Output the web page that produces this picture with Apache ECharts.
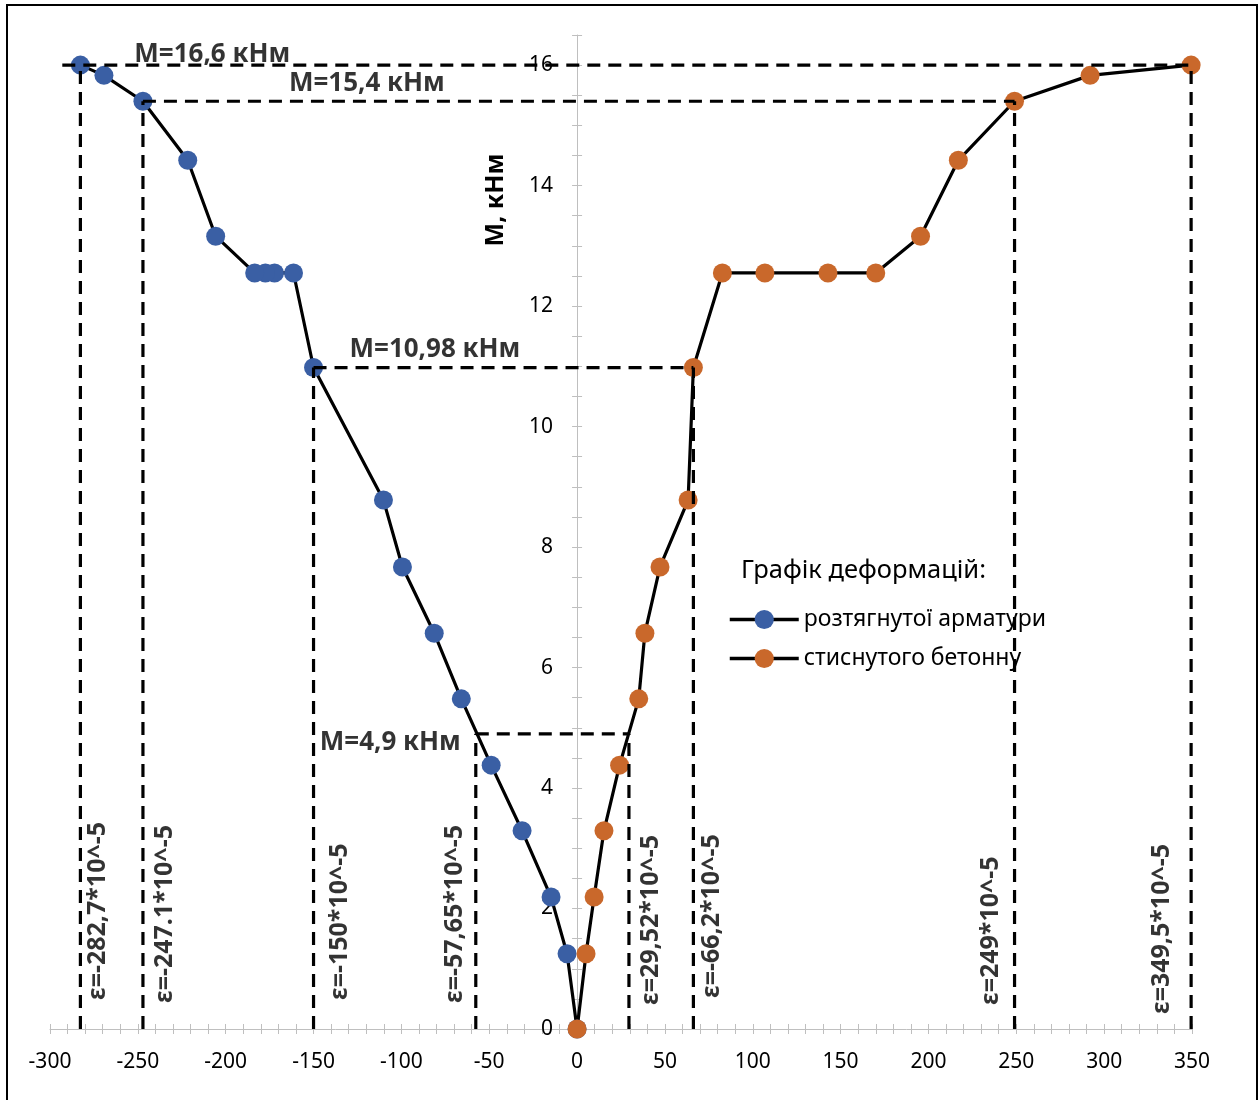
<!DOCTYPE html>
<html><head><meta charset="utf-8">
<script src="https://cdn.jsdelivr.net/npm/echarts@6/dist/echarts.min.js"></script>
<style>html,body{margin:0;padding:0;background:#fff}#c{width:1259px;height:1100px}</style>
</head><body><div id="c"></div>
<script>
// ---- data ----
const seriesNames = ['розтягнутої арматури', 'стиснутого бетонну'];
const momentM = [0, 1.25, 2.19, 3.29, 4.38, 5.48, 6.57, 7.67, 8.78, 10.98, 12.55, 12.55, 12.55, 12.55, 13.16, 14.42, 15.4, 15.83, 16.0];
const strainRebar = [0, -5.7, -14.8, -31.3, -48.9, -65.9, -81.3, -99.4, -110.2, -150, -161.4, -172.2, -177.4, -183.5, -205.7, -221.6, -247.1, -269.3, -282.7];
const strainConcrete = [0, 5.1, 9.7, 15.3, 24.2, 35.1, 38.6, 47.2, 63.2, 66.2, 82.7, 106.9, 142.8, 170.0, 195.5, 217.0, 249.0, 292.0, 349.5];

const hLineM = [16, 15.4, 10.98, 4.9];
const hLineFrom = [-293, -247.1, -150, -57.65];
const hLineTo = [349.5, 249, 66.2, 29.52];
const hLineText = ['M=16,6 кНм', 'M=15,4 кНм', 'M=10,98 кНм', 'M=4,9 кНм'];

const vLineStrain = [-282.7, -247.1, -150, -57.65, 29.52, 66.2, 249, 349.5];
const vLineTop = [16, 15.4, 10.98, 4.9, 4.9, 10.98, 15.4, 16];
const vLineText = ['ε=-282,7*10^-5', 'ε=-247.1*10^-5', 'ε=-150*10^-5', 'ε=-57,65*10^-5', 'ε=29,52*10^-5', 'ε=-66,2*10^-5', 'ε=249*10^-5', 'ε=349,5*10^-5'];

const xMin = -300, xMax = 350, xLabelStep = 50, xTickStep = 10;
const yMin = 0, yMax = 16.5, yLabelStep = 2, yTickStep = 0.5;
const yAxisTitle = 'M, кНм';
const legendTitle = 'Графік деформацій:';

// ---- styling / layout ----
const FONT = '"Noto Sans", "Open Sans", sans-serif';
const BLUE = '#3A5FA4';
const ORANGE = '#C9682B';
const AXIS_GRAY = '#BFBFBF';
const W = 1259, H = 1100;
const GRID = {left: 50, right: 67, top: 35, bottom: 71};
const gridW = W - GRID.left - GRID.right;
// y axis crosses the x axis at x = 0
const yAxisOffset = -gridW * (0 - xMin) / (xMax - xMin);
const hLabelOffset = [[72, -10], [146, -18], [36, -18], [-156, 9]];
const vLabelOffset = [[18, -29], [22, -26], [26, -29], [-21, -26], [22, -24], [19, -31], [-24, -24], [-29, -15]];

const chart = echarts.init(document.getElementById('c'), null, {renderer: 'canvas'});

function pairs(xs, ys) { return xs.map((x, i) => [x, ys[i]]); }

const dataSeries = [
  {name: seriesNames[0], xs: strainRebar, color: BLUE},
  {name: seriesNames[1], xs: strainConcrete, color: ORANGE}
].map(s => ({
  name: s.name, type: 'line', z: 2,
  data: pairs(s.xs, momentM),
  symbol: 'circle', symbolSize: 19, showSymbol: true,
  itemStyle: {color: s.color},
  lineStyle: {color: '#000', width: 3.2},
  emphasis: {disabled: true}
}));

const dash = {color: '#000', width: 3.2, type: [13, 8]};
const hSeries = hLineM.map((m, i) => ({
  type: 'line', z: 5, silent: true, symbol: 'none',
  data: [[hLineFrom[i], m], [hLineTo[i], m]],
  lineStyle: dash
}));
const vSeries = vLineStrain.map((e, i) => ({
  type: 'line', z: 5, silent: true, symbol: 'none',
  data: [[e, 0], [e, vLineTop[i]]],
  lineStyle: dash
}));

const hLabelSeries = {
  type: 'scatter', z: 6, silent: true, symbolSize: 0.1,
  itemStyle: {color: 'transparent'},
  data: hLineM.map((m, i) => ({
    value: [hLineFrom[i], m],
    label: {
      show: true, formatter: hLineText[i], position: hLabelOffset[i],
      align: 'left', verticalAlign: 'middle',
      fontFamily: FONT, fontWeight: 'bold', fontSize: 26, color: '#000'
    }
  }))
};
const vLabelSeries = {
  type: 'scatter', z: 6, silent: true, symbolSize: 0.1,
  itemStyle: {color: 'transparent'},
  data: vLineStrain.map((e, i) => ({
    value: [e, 0],
    label: {
      show: true, formatter: vLineText[i], position: vLabelOffset[i], rotate: 90,
      align: 'left', verticalAlign: 'middle',
      fontFamily: FONT, fontWeight: 'bold', fontSize: 25, color: '#000'
    }
  }))
};

const tickStyle = {show: true, length: 5, lineStyle: {color: AXIS_GRAY, width: 1}};
const baseX = {type: 'value', min: xMin, max: xMax, interval: xTickStep, splitLine: {show: false}, position: 'bottom'};
const baseY = {type: 'value', min: yMin, max: yMax, interval: yTickStep, splitLine: {show: false}, position: 'left', offset: yAxisOffset};

const option = {
  animation: false,
  backgroundColor: '#fff',
  grid: Object.assign({containLabel: false}, GRID),
  title: {
    text: legendTitle, left: 741, top: 558, padding: 0,
    textStyle: {fontFamily: FONT, fontWeight: 'normal', fontSize: 25.5, color: '#000'}
  },
  legend: {
    data: seriesNames, orient: 'vertical', left: 728, top: 608, padding: 0,
    itemWidth: 69, itemHeight: 24, itemGap: 16,
    lineStyle: {width: 3.5},
    textStyle: {fontFamily: FONT, fontSize: 23, color: '#000'},
    selectedMode: false
  },
  xAxis: [
    Object.assign({}, baseX, {
      axisLine: {show: true, onZero: false, lineStyle: {color: AXIS_GRAY, width: 1}},
      axisTick: tickStyle,
      axisLabel: {
        margin: 23, fontFamily: FONT, fontSize: 21, color: '#000',
        formatter: v => (Math.abs(v % xLabelStep) < 1e-6 ? String(v) : '')
      }
    }),
    Object.assign({}, baseX, {
      axisLine: {show: false, onZero: false},
      axisTick: Object.assign({}, tickStyle, {inside: true}),
      axisLabel: {show: false}
    })
  ],
  yAxis: [
    Object.assign({}, baseY, {
      axisLine: {show: true, onZero: false, lineStyle: {color: AXIS_GRAY, width: 1}},
      axisTick: tickStyle,
      axisLabel: {
        margin: 24, fontFamily: FONT, fontSize: 21, color: '#000',
        formatter: v => (Math.abs(v % yLabelStep) < 1e-6 ? String(v) : '')
      }
    }),
    Object.assign({}, baseY, {
      axisLine: {show: false, onZero: false},
      axisTick: Object.assign({}, tickStyle, {inside: true}),
      axisLabel: {show: false}
    })
  ],
  graphic: [
    {type: 'rect', silent: true, z: 100, shape: {x: 7, y: 5, width: 1250, height: 1120},
     style: {fill: 'none', stroke: '#000', lineWidth: 2}},
    {type: 'text', silent: true, x: 496, y: 200, rotation: Math.PI / 2,
     style: {text: yAxisTitle, fontFamily: FONT, fontWeight: 'bold', fontSize: 25, fill: '#000',
             align: 'center', verticalAlign: 'middle'}}
  ],
  series: dataSeries.concat(hSeries, vSeries, [hLabelSeries, vLabelSeries])
};
chart.setOption(option);
</script>
</body></html>
